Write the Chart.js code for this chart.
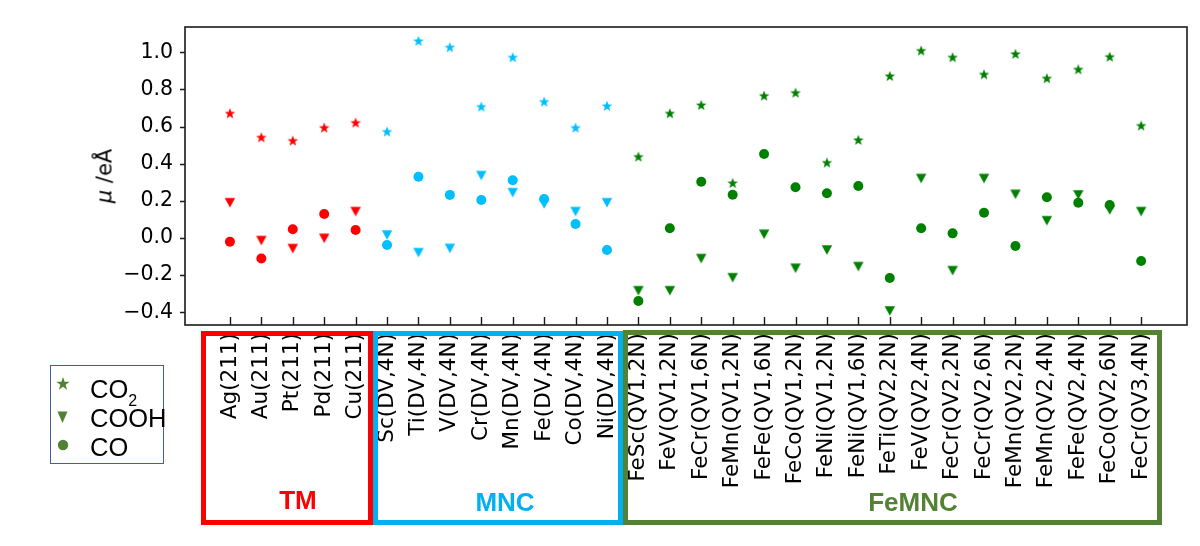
<!DOCTYPE html>
<html><head><meta charset="utf-8">
<script src="https://cdn.jsdelivr.net/npm/chart.js@4.4.1/dist/chart.umd.min.js"></script>
<style>
body{margin:0;background:#fff;}
#wrap{position:relative;width:1200px;height:546px;overflow:hidden;}
#cv{position:absolute;left:0;top:0;}
.box{position:absolute;box-sizing:border-box;border-style:solid;border-width:5px;}
.glabel{position:absolute;font-family:"Liberation Sans",Arial,sans-serif;font-weight:bold;font-size:26px;transform:translate(-50%,-50%);white-space:nowrap;line-height:1;}
#ytitle{position:absolute;left:105px;top:176px;transform:translate(-50%,-50%) rotate(-90deg);font-family:"DejaVu Sans",sans-serif;font-size:21px;white-space:nowrap;line-height:1;color:#000;}
#legend{position:absolute;left:50px;top:365px;width:114px;height:99px;box-sizing:border-box;border:1.5px solid #3f5fa8;}
.li{position:absolute;font-family:"Liberation Sans",Arial,sans-serif;font-size:25.5px;line-height:1;white-space:nowrap;transform:translateY(-50%);color:#000;}
.li .s{font-size:16px;position:relative;top:8px;}
</style></head>
<body>
<div id="wrap">
  <canvas id="cv" width="1200" height="546"></canvas>
  <div id="ytitle"><i>μ</i> /eÅ</div>
  <div class="box" style="left:201px;top:331px;width:172px;height:194px;border-color:#ff0000;"></div>
  <div class="box" style="left:373px;top:331px;width:250px;height:194px;border-color:#00b0f0;"></div>
  <div class="box" style="left:623px;top:330px;width:539px;height:195px;border-color:#548235;"></div>
  <div class="glabel" style="left:298px;top:500px;color:#ff0000;">TM</div>
  <div class="glabel" style="left:505px;top:502px;color:#00b0f0;">MNC</div>
  <div class="glabel" style="left:913px;top:502px;color:#548235;">FeMNC</div>
  <div id="legend"></div>
  <svg id="legsvg" style="position:absolute;left:0;top:0;" width="1200" height="546"></svg>
  <div class="li" style="left:90px;top:390px;">CO<span class="s">2</span></div>
  <div class="li" style="left:90px;top:419px;">COOH</div>
  <div class="li" style="left:90px;top:448px;">CO</div>
</div>
<script>
// ---------------- data ----------------
const categories = [
  "Ag(211)","Au(211)","Pt(211)","Pd(211)","Cu(211)",
  "Sc(DV,4N)","Ti(DV,4N)","V(DV,4N)","Cr(DV,4N)","Mn(DV,4N)","Fe(DV,4N)","Co(DV,4N)","Ni(DV,4N)",
  "FeSc(QV1,2N)","FeV(QV1,2N)","FeCr(QV1,6N)","FeMn(QV1,2N)","FeFe(QV1,6N)","FeCo(QV1,2N)","FeNi(QV1,2N)","FeNi(QV1,6N)",
  "FeTi(QV2,2N)","FeV(QV2,4N)","FeCr(QV2,2N)","FeCr(QV2,6N)","FeMn(QV2,2N)","FeMn(QV2,4N)","FeFe(QV2,4N)","FeCo(QV2,6N)","FeCr(QV3,4N)"
];
const categoryGroup = [
  "TM","TM","TM","TM","TM",
  "MNC","MNC","MNC","MNC","MNC","MNC","MNC","MNC",
  "FeMNC","FeMNC","FeMNC","FeMNC","FeMNC","FeMNC","FeMNC","FeMNC","FeMNC",
  "FeMNC","FeMNC","FeMNC","FeMNC","FeMNC","FeMNC","FeMNC","FeMNC"
];
const co2 = [0.671,0.542,0.524,0.594,0.621,
  0.573,1.061,1.027,0.707,0.973,0.734,0.594,0.711,
  0.438,0.671,0.716,0.296,0.766,0.782,0.406,0.528,0.872,1.009,0.973,0.881,0.991,0.860,0.908,0.976,0.605];
const cooh = [0.190,-0.014,-0.057,-0.002,0.142,
  0.016,-0.079,-0.056,0.336,0.244,0.183,0.142,0.190,
  -0.284,-0.284,-0.111,-0.214,0.020,-0.163,-0.065,-0.154,-0.393,0.320,-0.176,0.320,0.235,0.093,0.232,0.151,0.142];
const co = [-0.020,-0.110,0.047,0.129,0.043,
  -0.038,0.330,0.232,0.205,0.311,0.210,0.075,-0.065,
  -0.339,0.052,0.303,0.233,0.452,0.273,0.241,0.280,-0.215,0.052,0.025,0.136,-0.043,0.219,0.190,0.178,-0.124];
const seriesNames = ["CO2","COOH","CO"];
const yTickValues = [-0.4,-0.2,0.0,0.2,0.4,0.6,0.8,1.0];

// ---------------- styles ----------------
const groupColor = {TM:"#ff0000", MNC:"#00bfff", FeMNC:"#008000"};
const legendColor = "#548235";

function starPoints(cx, cy, R, r){
  const pts=[];
  for(let k=0;k<10;k++){
    const ang = -Math.PI/2 + k*Math.PI/5;
    const rad = (k%2===0)?R:r;
    pts.push([cx+rad*Math.cos(ang), cy+rad*Math.sin(ang)]);
  }
  return pts;
}
function makeStar(color){
  const c=document.createElement('canvas'); c.width=14; c.height=14;
  const g=c.getContext('2d'); g.fillStyle=color; g.beginPath();
  starPoints(7,7.4,5.6,2.3).forEach((p,i)=>i?g.lineTo(p[0],p[1]):g.moveTo(p[0],p[1]));
  g.closePath(); g.fill(); return c;
}
function makeTri(color){
  const c=document.createElement('canvas'); c.width=12; c.height=12;
  const g=c.getContext('2d'); g.fillStyle=color; g.beginPath();
  g.moveTo(0.8,1.2); g.lineTo(11.2,1.2); g.lineTo(6,10.8); g.closePath(); g.fill(); return c;
}
const starImg={}, triImg={};
for(const k in groupColor){ starImg[k]=makeStar(groupColor[k]); triImg[k]=makeTri(groupColor[k]); }

const colorsByCat = categoryGroup.map(g=>groupColor[g]);
const toXY = arr => arr.map((v,i)=>({x:i,y:v}));

// legend markers (svg)
(function(){
  const svg=document.getElementById('legsvg');
  const ns='http://www.w3.org/2000/svg';
  const star=document.createElementNS(ns,'polygon');
  star.setAttribute('points', starPoints(63,384,7,2.8).map(p=>p.join(',')).join(' '));
  star.setAttribute('fill',legendColor); svg.appendChild(star);
  const tri=document.createElementNS(ns,'polygon');
  tri.setAttribute('points','57.5,411.5 67.5,411.5 62.5,423'); tri.setAttribute('fill',legendColor); svg.appendChild(tri);
  const cir=document.createElementNS(ns,'circle');
  cir.setAttribute('cx',63); cir.setAttribute('cy',445); cir.setAttribute('r',5.2); cir.setAttribute('fill',legendColor); svg.appendChild(cir);
})();

const framePlugin = {
  id:'frame',
  beforeDatasetsDraw(chart){
    const {ctx, chartArea:a, scales:{x,y}} = chart;
    ctx.save();
    ctx.strokeStyle='#1a1a1a'; ctx.lineWidth=1.6;
    ctx.strokeRect(a.left, a.top, a.right-a.left, a.bottom-a.top);
    ctx.lineWidth=1.4; ctx.beginPath();
    x.ticks.forEach(t=>{const px=Math.round(x.getPixelForValue(t.value))+0.5; ctx.moveTo(px,a.bottom); ctx.lineTo(px,a.bottom-8);});
    y.ticks.forEach(t=>{const py=Math.round(y.getPixelForValue(t.value))+0.5; ctx.moveTo(a.left,py); ctx.lineTo(a.left-5,py);});
    ctx.stroke(); ctx.restore();
  }
};

Chart.defaults.font.family = '"DejaVu Sans", sans-serif';
Chart.defaults.color = '#000';

new Chart(document.getElementById('cv'), {
  type:'scatter',
  data:{
    datasets:[
      {label:seriesNames[0], data:toXY(co2), pointStyle:categoryGroup.map(g=>starImg[g]), pointRadius:5, backgroundColor:colorsByCat, borderWidth:0},
      {label:seriesNames[1], data:toXY(cooh), pointStyle:categoryGroup.map(g=>triImg[g]), pointRadius:5, backgroundColor:colorsByCat, borderWidth:0},
      {label:seriesNames[2], data:toXY(co), pointStyle:'circle', pointRadius:5, backgroundColor:colorsByCat, borderColor:colorsByCat, borderWidth:0}
    ]
  },
  options:{
    responsive:false, animation:false,
    layout:{padding:{left:0,top:27,right:13,bottom:0}},
    plugins:{legend:{display:false}, tooltip:{enabled:false}},
    scales:{
      x:{
        type:'linear', min:-1.43, max:30.46,
        grid:{display:false, drawTicks:false}, border:{display:false},
        afterBuildTicks:s=>{ s.ticks = categories.map((_,i)=>({value:i})); },
        afterFit:s=>{ s.height = 221; },
        ticks:{autoSkip:false, minRotation:90, maxRotation:90, padding:8,
          font:{size:21.5}, color:'#000',
          callback:(v)=>categories[Math.round(v)] ?? ''}
      },
      y:{
        type:'linear', min:-0.4685, max:1.136,
        grid:{display:false, drawTicks:false}, border:{display:false},
        afterBuildTicks:s=>{ s.ticks = yTickValues.map(v=>({value:v})); },
        afterFit:s=>{ s.width = 185; },
        ticks:{padding:12, font:{size:20.5}, color:'#000',
          callback:(v)=>(v<-1e-9?'\u2212':'')+Math.abs(v).toFixed(1)}
      }
    }
  },
  plugins:[framePlugin]
});
</script>
</body></html>
